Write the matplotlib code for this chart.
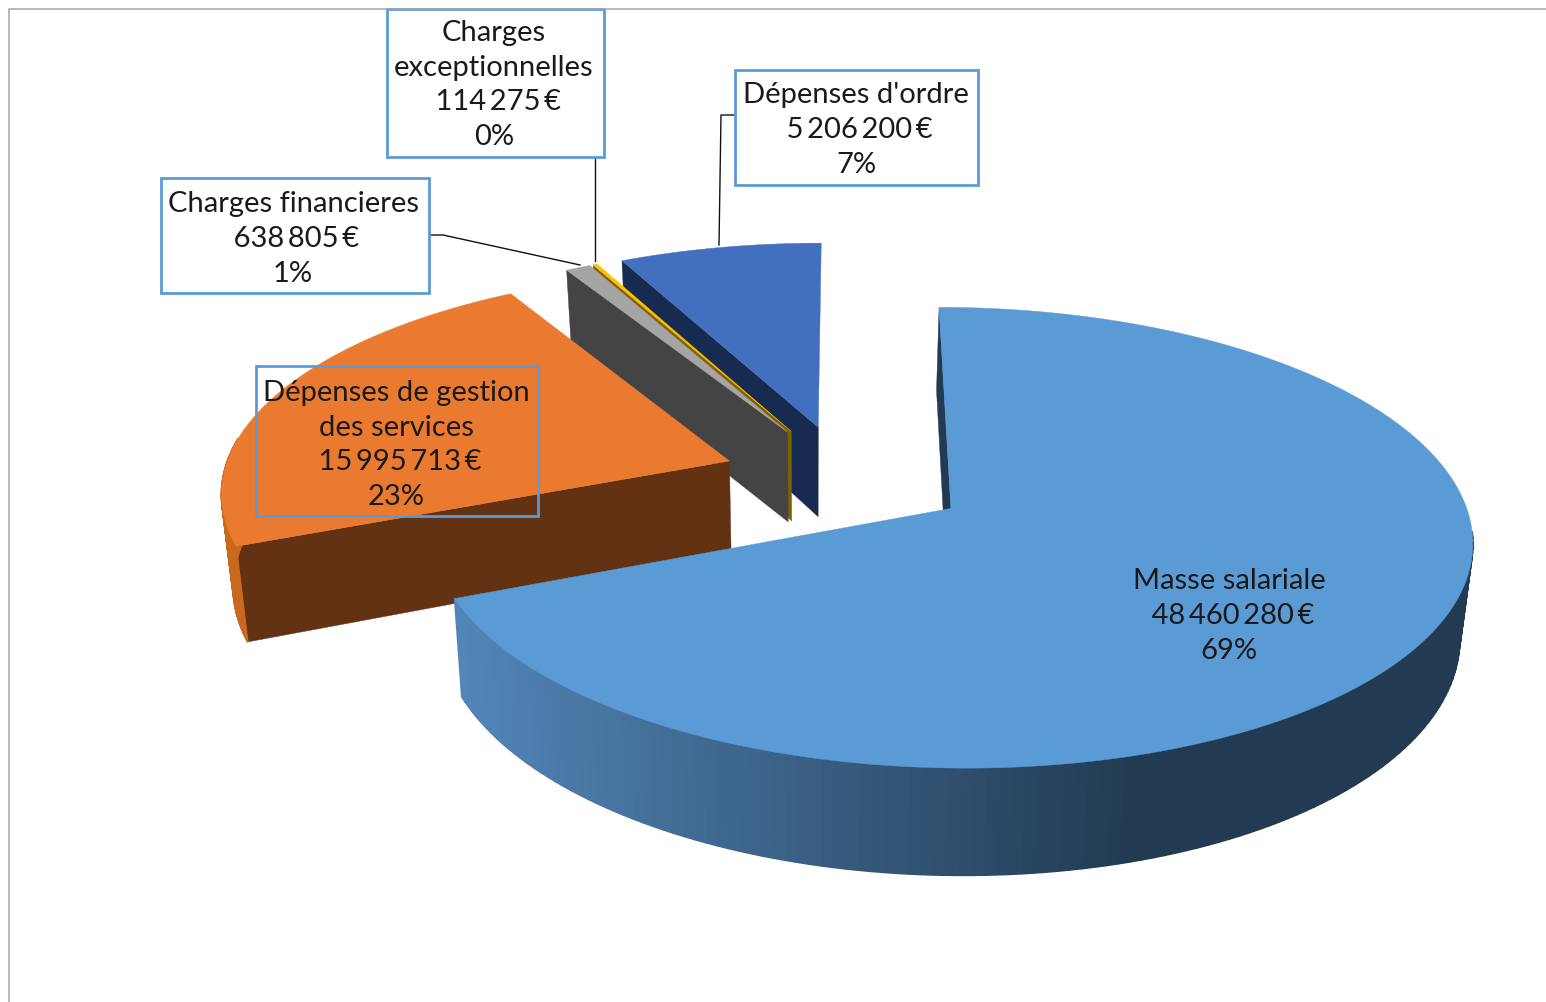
import numpy as np
import matplotlib
matplotlib.use('Agg')
import matplotlib.pyplot as plt
from matplotlib.collections import PolyCollection
from matplotlib.patches import Polygon, Rectangle

plt.rcParams['font.family'] = ['Lato', 'DejaVu Sans']

# data
noms = ['Masse salariale', 'Dépenses de gestion\ndes services', 'Charges financieres',
        'Charges\nexceptionnelles', "Dépenses d'ordre"]
valeurs = [48460280, 15995713, 638805, 114275, 5206200]
montants = ['48 460 280 €', '15 995 713 €', '638 805 €', '114 275 €', '5 206 200 €']

# styles : dessus, paroi, bord extérieur
c_dessus = ['#5b9bd5', '#e97a30', '#a5a5a5', '#ffc000', '#4270bf']
c_paroi = ['#223b52', '#623212', '#444444', '#7f6000', '#172b50']
c_bord = [None, '#c9681f', '#444444', '#7f6000', '#172b50']

# position des étiquettes : x, y, largeur, hauteur de la boite (None = pas de boite)
boites = [None, (256, 367, 282, 150), (161, 179, 268, 115), (387, 10, 217, 148), (735, 71, 243, 115)]
centres_txt = [(1229, 616), (396, 445), (293, 239), (494, 85), (856, 130)]
leaders = [None, None, [(430, 236), (443, 236), (580, 266)],
           [(595, 159), (595, 262)], [(734, 116), (721, 116), (719, 246)]]

# projection en perspective
ox, oy = 846, 479
b, a = 507, 219
p = 0.125
explode = 0.245
vx, k, t = 812, 0.02, 92


def proj(X, V, bas=False):
    X, V = np.asarray(X, float), np.asarray(V, float)
    s = 1 / (1 - p * V)
    x = ox + b * X * s
    y = oy + a * V * s
    if bas:
        x = vx + (x - vx) * (1 - k)
        y = y + t * s
    return np.column_stack([x, y])


def melange(c1, c2, f):
    r1 = np.array(matplotlib.colors.to_rgb(c1))
    r2 = np.array(matplotlib.colors.to_rgb(c2))
    return tuple(r1 + (r2 - r1) * f)


fig = plt.figure(figsize=(15.46, 10.03), dpi=100)
ax = fig.add_axes([0, 0, 1, 1])
ax.set_xlim(0, 1546)
ax.set_ylim(1003, 0)
ax.axis('off')

total = sum(valeurs)
bornes = np.cumsum([0] + valeurs) / total * 2 * np.pi
pcts = [v / total * 100 for v in valeurs]

# ordre de dessin : de l'arrière vers l'avant
for i in [4, 3, 2, 1, 0]:
    t0, t1 = bornes[i], bornes[i + 1]
    tm = (t0 + t1) / 2
    ex, ev = explode * np.sin(tm), -explode * np.cos(tm)
    th = np.linspace(t0, t1, 200)
    X = ex + np.sin(th)
    V = ev - np.cos(th)
    haut = proj(X, V)
    bas = proj(X, V, True)
    ah = proj([ex], [ev])[0]
    ab = proj([ex], [ev], True)[0]
    z = 10 + (4 - i) * 5

    # paroi radiale du début de la part (celle de la fin reste cachée)
    ax.add_patch(Polygon([ah, haut[0], bas[0], ab], fc=c_paroi[i], ec=c_paroi[i], lw=0.3, zorder=z))

    # bord extérieur, seulement la partie tournée vers l'avant
    quads = [[haut[n], haut[n + 1], bas[n + 1], bas[n]] for n in range(len(th) - 1)
             if -np.cos(th[n]) > 0.1 or (i == 1 and -np.cos(th[n]) > -0.1)]
    if quads:
        if i == 0:
            cols = [melange('#5285b8', '#223b52', np.clip((q[0][0] - 460) / 680, 0, 1)) for q in quads]
        else:
            cols = [c_bord[i]] * len(quads)
        ax.add_collection(PolyCollection(quads, facecolors=cols, edgecolors=cols, linewidths=1.2, zorder=z + 1))

    # dessus
    ax.add_patch(Polygon(np.vstack([ah, haut]), fc=c_dessus[i], ec=c_dessus[i], lw=0.3, zorder=z + 2))

# cadre du graphique
ax.plot([9, 9, 1546], [1003, 10, 10], color='#a6a6a6', lw=1.1, zorder=60)

# étiquettes
for i in range(5):
    if leaders[i]:
        lx, ly = zip(*leaders[i])
        ax.plot(lx, ly, color='#111111', lw=1.0, zorder=40)
    if boites[i]:
        x0, y0, w, h = boites[i]
        ax.add_patch(Rectangle((x0, y0), w, h, fc='white' if i != 1 else 'none', ec='#5b9bd5', lw=2, zorder=50))
    montant = montants[i].replace(' ', '\u2009')
    txt = f"{noms[i]}\n {montant}\n{pcts[i]:.0f}%"
    ax.text(centres_txt[i][0], centres_txt[i][1], txt, ha='center', va='center', fontsize=21,
            linespacing=1.42, color='#1a1a1a', zorder=55)

fig.savefig('out.png', dpi=100)
